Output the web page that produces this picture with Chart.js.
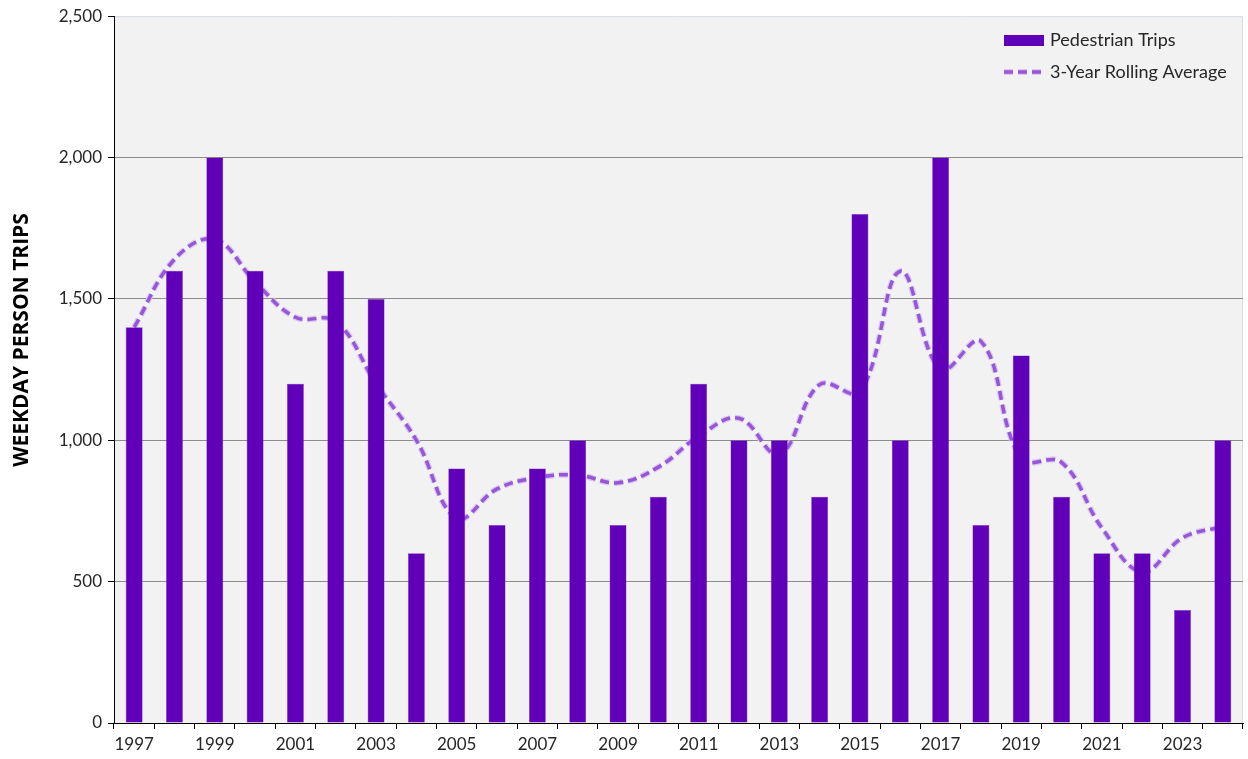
<!DOCTYPE html>
<html>
<head>
<meta charset="utf-8">
<script src="https://cdn.jsdelivr.net/npm/chart.js@4"></script>
<style>
  html, body { margin: 0; padding: 0; background: #fff; }
  #wrap { width: 1248px; height: 759px; }
</style>
</head>
<body>
<div id="wrap"><canvas id="myChart"></canvas></div>
<script>
var years = ["1997", "1998", "1999", "2000", "2001", "2002", "2003", "2004", "2005", "2006",
  "2007", "2008", "2009", "2010", "2011", "2012", "2013", "2014", "2015", "2016",
  "2017", "2018", "2019", "2020", "2021", "2022", "2023", "2024"];
var pedestrianTrips = [1400, 1600, 2000, 1600, 1200, 1600, 1500, 600, 900, 700,
  900, 1000, 700, 800, 1200, 1000, 1000, 800, 1800, 1000,
  2000, 700, 1300, 800, 600, 600, 400, 1000];
var rollingAverage = [1400, 1640, 1710, 1560, 1435, 1420, 1200, 1000, 725, 828,
  868, 877, 850, 905, 1014, 1078, 950, 1197, 1172, 1598,
  1250, 1350, 935, 922, 690, 535, 655, 695];
var yTicks = [0, 500, 1000, 1500, 2000, 2500];

var barColor = '#6000b9';
var lineColor = '#9656d6';
var glowColor = 'rgba(215,195,242,0.95)';

var plotBg = {
  id: 'plotBg',
  beforeDraw: function (chart) {
    var a = chart.chartArea, c = chart.ctx;
    c.save();
    c.fillStyle = '#f2f2f2';
    c.fillRect(a.left, a.top, a.right - a.left, a.bottom - a.top);
    c.strokeStyle = '#d6dce5';
    c.lineWidth = 1;
    c.beginPath();
    c.moveTo(a.left, a.top + 0.5);
    c.lineTo(a.right - 0.5, a.top + 0.5);
    c.lineTo(a.right - 0.5, a.bottom);
    c.stroke();
    // y axis title
    c.translate(22, 340);
    c.rotate(-Math.PI / 2);
    c.fillStyle = '#000';
    c.font = 'bold 21px "Open Sans"';
    c.textAlign = 'center';
    c.textBaseline = 'middle';
    c.fillText('WEEKDAY PERSON TRIPS', 0, 0);
    c.restore();
  }
};

var legendBox = {
  id: 'legendBox',
  afterDraw: function (chart) {
    var c = chart.ctx;
    c.save();
    c.fillStyle = barColor;
    c.fillRect(1004, 35, 40, 11);
    c.setLineDash([9, 5]);
    c.lineWidth = 6;
    c.strokeStyle = glowColor;
    c.beginPath(); c.moveTo(1004, 72); c.lineTo(1044, 72); c.stroke();
    c.lineWidth = 3.5;
    c.strokeStyle = lineColor;
    c.beginPath(); c.moveTo(1004, 72); c.lineTo(1044, 72); c.stroke();
    c.setLineDash([]);
    c.fillStyle = '#262626';
    c.font = '18px Lato';
    c.textBaseline = 'middle';
    c.fillText('Pedestrian Trips', 1050, 40);
    c.fillText('3-Year Rolling Average', 1050, 72);
    c.restore();
  }
};

var ctx = document.getElementById("myChart");
var myChart = new Chart(ctx, {
  data: {
    labels: years,
    datasets: [
      {
        type: 'bar',
        label: 'Pedestrian Trips',
        data: pedestrianTrips,
        backgroundColor: barColor,
        borderColor: '#7d3ccc',
        borderWidth: 0.5,
        barPercentage: 0.84,
        categoryPercentage: 0.5,
        order: 1
      },
      {
        type: 'line',
        label: 'glow',
        data: rollingAverage,
        borderColor: glowColor,
        borderWidth: 6,
        borderDash: [9, 5],
        pointRadius: 0,
        tension: 0.4,
        fill: false,
        order: 3
      },
      {
        type: 'line',
        label: '3-Year Rolling Average',
        data: rollingAverage,
        borderColor: lineColor,
        borderWidth: 3.5,
        borderDash: [9, 5],
        pointRadius: 0,
        tension: 0.4,
        fill: false,
        order: 2
      }
    ]
  },
  options: {
    responsive: true,
    maintainAspectRatio: false,
    animation: false,
    layout: { padding: { left: 6, top: 13, right: 5, bottom: 0 } },
    plugins: {
      legend: { display: false },
      tooltip: { enabled: false }
    },
    scales: {
      x: {
        offset: true,
        grid: {
          offset: true,
          drawOnChartArea: false,
          tickLength: 6,
          tickColor: '#000'
        },
        border: { color: '#000', width: 1 },
        ticks: {
          autoSkip: false,
          maxRotation: 0,
          color: '#262626',
          font: { family: 'Lato', size: 17 },
          padding: 5,
          callback: function (v, i) { return i % 2 === 0 ? years[i] : ''; }
        },
        afterFit: function (s) { s.height = 36; }
      },
      y: {
        min: 0,
        max: 2500,
        afterBuildTicks: function (s) { s.ticks = yTicks.map(function (v) { return { value: v }; }); },
        grid: {
          color: function (c) { return c.tick && c.tick.value === 2500 ? 'rgba(0,0,0,0)' : '#8c8c8c'; },
          tickColor: '#000',
          tickLength: 6
        },
        border: { color: '#000', width: 1 },
        ticks: {
          color: '#262626',
          font: { family: 'Lato', size: 17 },
          padding: 6,
          callback: function (v) { return v.toLocaleString('en-US'); }
        },
        afterFit: function (s) { s.width = 108; }
      }
    }
  },
  plugins: [plotBg, legendBox]
});
</script>
</body>
</html>
